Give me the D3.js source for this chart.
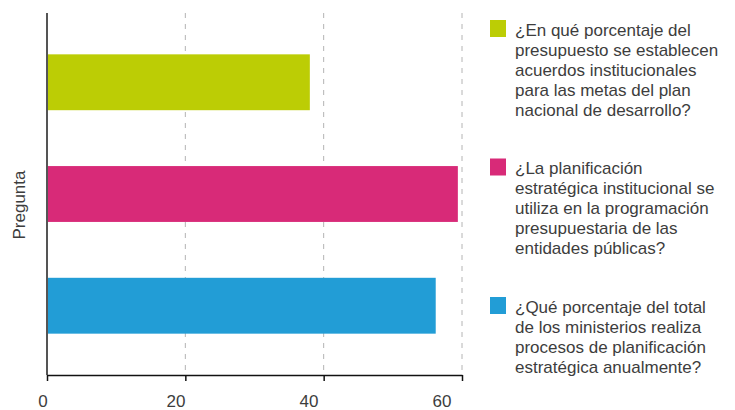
<!DOCTYPE html>
<html>
<head>
<meta charset="utf-8">
<script src="https://cdn.jsdelivr.net/npm/d3@7"></script>
<style>
  body { margin: 0; background: #fff; }
  svg text { font-family: "Liberation Sans", Arial, sans-serif; fill: #3d3d3d; }
</style>
</head>
<body>
<div id="chart"></div>
<script>
////////////////////////////////////////////////////////////
// DATA
////////////////////////////////////////////////////////////
var categories = ["metas", "programacion", "ministerios"];
var values = [38.0, 59.4, 56.2];
var colors = ["#bccd05", "#d82a78", "#229dd6"];
var xTicks = [0, 20, 40, 60];
var legendLines = [
    ["¿En qué porcentaje del", "presupuesto se establecen", "acuerdos institucionales", "para las metas del plan", "nacional de desarrollo?"],
    ["¿La planificación", "estratégica institucional se", "utiliza en la programación", "presupuestaria de las", "entidades públicas?"],
    ["¿Qué porcentaje del total", "de los ministerios realiza", "procesos de planificación", "estratégica anualmente?"]
];
var yTitle = "Pregunta";

make_bar_plot();

function make_bar_plot() {
    var width = 735;
    var height = 410;
    var plot = {left: 47, right: 462, top: 13, bottom: 375};

    var svg = d3.select("#chart").append("svg")
        .attr("width", width)
        .attr("height", height);

    // scales
    var x = d3.scaleLinear().domain([0, 60]).range([plot.left, plot.right]);
    var y = d3.scaleBand().domain(categories).range([plot.top, plot.bottom])
        .paddingInner(0.5).paddingOuter(0.37);
    // tick labels sit a bit left of their ticks in the original
    var xLabel = d3.scaleLinear().domain([0, 60]).range([43, 442]);

    // dashed gridlines
    svg.append("g")
        .selectAll("line")
        .data(xTicks.filter(function(d) { return d > 0; }))
        .enter().append("line")
        .attr("x1", function(d) { return x(d); })
        .attr("x2", function(d) { return x(d); })
        .attr("y1", plot.top)
        .attr("y2", plot.bottom)
        .attr("stroke", "#b4b4b4")
        .attr("stroke-width", 1)
        .attr("stroke-dasharray", "5,6");

    // bars
    svg.append("g")
        .selectAll("rect")
        .data(values)
        .enter().append("rect")
        .attr("x", x(0))
        .attr("y", function(d, i) { return y(categories[i]); })
        .attr("width", function(d) { return x(d) - x(0); })
        .attr("height", y.bandwidth())
        .attr("fill", function(d, i) { return colors[i]; });

    // left axis line
    svg.append("line")
        .attr("x1", x(0)).attr("x2", x(0))
        .attr("y1", plot.top).attr("y2", plot.bottom)
        .attr("stroke", "#555")
        .attr("stroke-width", 2);

    // bottom axis
    var xAxis = svg.append("g")
        .attr("transform", "translate(0," + plot.bottom + ")")
        .call(d3.axisBottom(x).tickValues(xTicks).tickSize(6).tickSizeOuter(0).tickFormat(""));
    xAxis.select(".domain").attr("stroke", "#111").attr("stroke-width", 1.5);
    xAxis.selectAll(".tick line").attr("stroke", "#111").attr("stroke-width", 1.5);

    svg.append("g")
        .selectAll("text")
        .data(xTicks)
        .enter().append("text")
        .attr("x", function(d) { return xLabel(d); })
        .attr("y", 407)
        .attr("text-anchor", "middle")
        .style("font-size", "17px")
        .text(function(d) { return d; });

    // y title
    svg.append("text")
        .attr("transform", "translate(25,205) rotate(-90)")
        .attr("text-anchor", "middle")
        .style("font-size", "17px")
        .text(yTitle);

    // legend
    var lineH = 20;
    var gap = 38.5;
    var top = 20;
    for (var i = 0; i < legendLines.length; i++) {
        var g = svg.append("g").attr("transform", "translate(490," + top + ")");
        g.append("rect")
            .attr("width", 16)
            .attr("height", 17)
            .attr("fill", colors[i]);
        var t = g.append("text")
            .attr("x", 25)
            .attr("y", 15.5)
            .style("font-size", "17px");
        t.selectAll("tspan")
            .data(legendLines[i])
            .enter().append("tspan")
            .attr("x", 25)
            .attr("dy", function(d, j) { return j == 0 ? 0 : lineH; })
            .text(function(d) { return d; });
        top += legendLines[i].length * lineH + gap;
    }
}
</script>
</body>
</html>
